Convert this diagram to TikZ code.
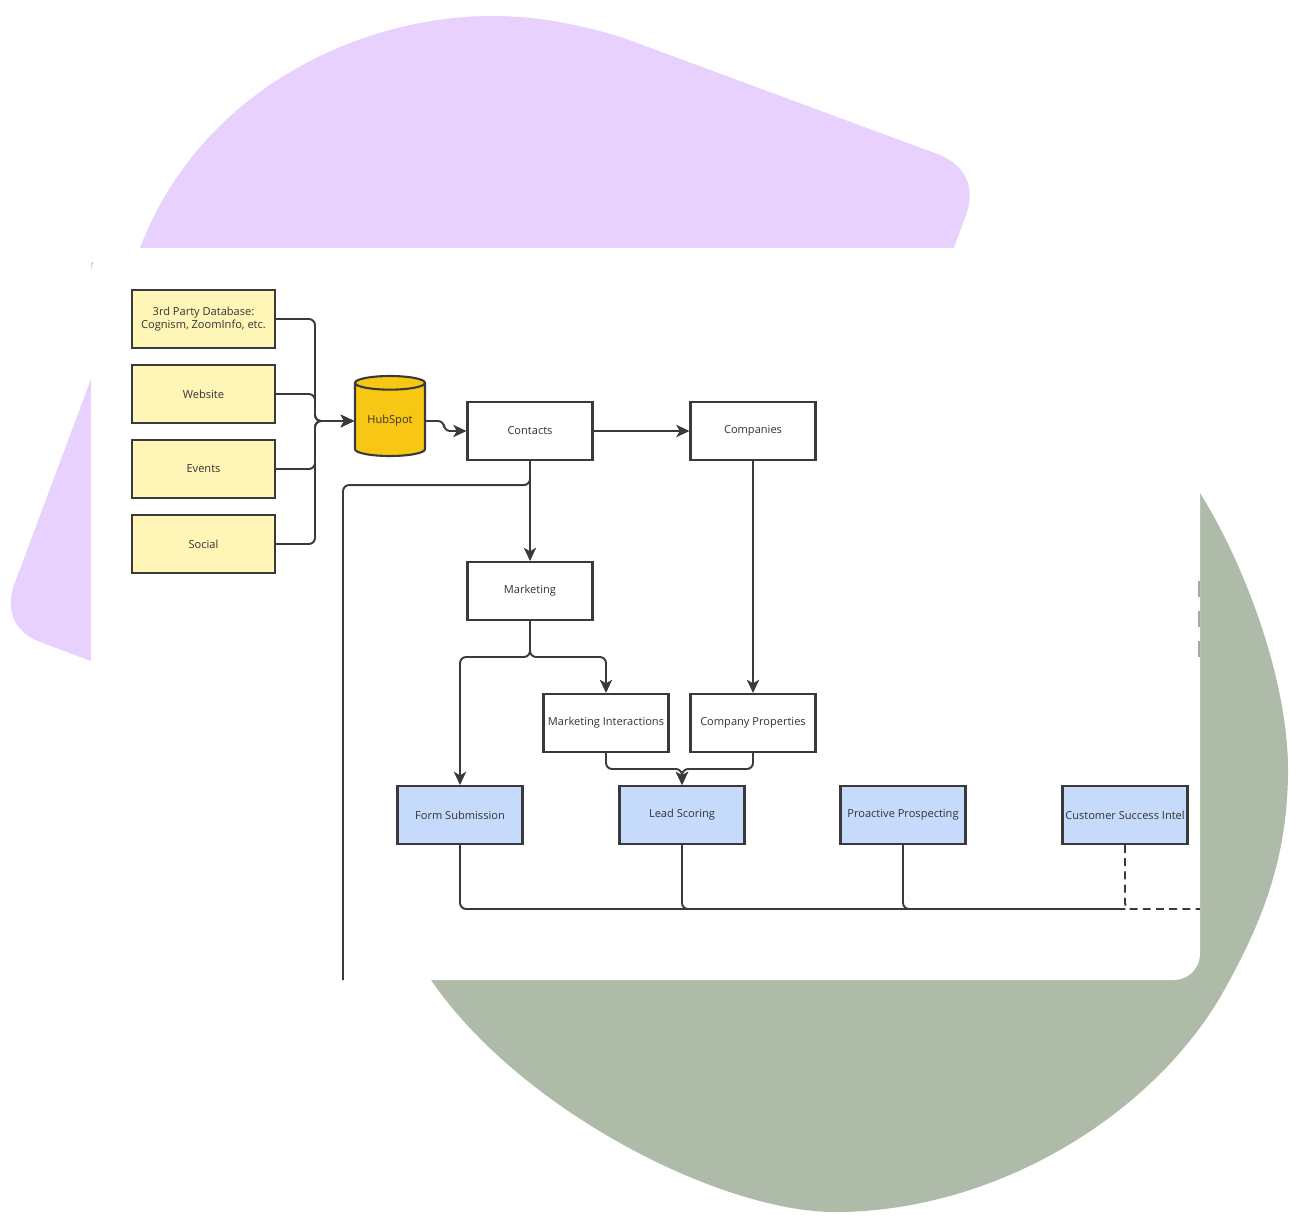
\documentclass[tikz,border=0pt]{standalone}
\usepackage{fontspec}
\setmainfont{Open Sans}
\usetikzlibrary{arrows.meta, shapes.geometric}
\definecolor{purplebg}{HTML}{E8D1FD}
\definecolor{sagebg}{HTML}{AFBBA9}
\definecolor{noteyellow}{HTML}{FFF5B7}
\definecolor{hubgold}{HTML}{F8C714}
\definecolor{outcomeblue}{HTML}{C6DBFB}
\definecolor{linegray}{HTML}{3A3A3A}
\definecolor{textgray}{HTML}{333333}
\tikzset{
  flowbox/.style={draw=linegray, line width=1.2pt, fill=white, minimum width=2.5cm, minimum height=1.16cm,
    inner sep=1pt, align=center, text=textgray, font=\fontsize{6.3}{7.8}\selectfont},
  sourcebox/.style={flowbox, fill=noteyellow, minimum width=2.86cm},
  outcomebox/.style={flowbox, fill=outcomeblue},
  conn/.style={draw=linegray, line width=1.1pt, rounded corners=3.5pt},
}

\begin{document}
\begin{tikzpicture}[x=0.02cm, y=-0.02cm, >={Stealth[length=7.5pt, width=7pt, inset=2pt]}]
  \fill[white] (0,0) rectangle (1291,1228);
  % backdrop shapes
  \fill[purplebg] (91,661) -- (40,642) .. controls (15,632) and (5,612) .. (14,585) -- (140,248)
    .. controls (200,90) and (360,16) .. (492,16) .. controls (540,16) and (580,25) .. (621,37)
    -- (940,155) .. controls (968,167) and (975,190) .. (966,215) -- (953,250) -- (953,262) -- (91,262) -- cycle;
  \fill[sagebg] (1200,493) .. controls (1245,565) and (1288,680) .. (1288,770)
    .. controls (1288,860) and (1260,925) .. (1227,985) .. controls (1160,1110) and (1000,1212) .. (835,1212)
    .. controls (720,1212) and (520,1110) .. (431,980) -- (418,940) -- (418,600) -- (1150,420) -- cycle;
  \fill[white, rounded corners=15] (91,248) rectangle (1200,980);

  \node[sourcebox] (thirdparty) at (203.5,319) {3rd Party Database:\\Cognism, ZoomInfo, etc.};
  \node[sourcebox] (website) at (203.5,394) {Website};
  \node[sourcebox] (events) at (203.5,469) {Events};
  \node[sourcebox] (social) at (203.5,544) {Social};
  \node[cylinder, shape border rotate=90, aspect=0.28, draw=linegray, line width=1.2pt, fill=hubgold,
    minimum width=1.4cm, minimum height=1.6cm, inner sep=1pt, text=textgray,
    font=\fontsize{6.3}{7.8}\selectfont] (hubspot) at (390,421) {HubSpot};
  \node[flowbox] (contacts) at (530,431) {Contacts};
  \node[flowbox] (companies) at (753,431) {Companies};
  \node[flowbox] (marketing) at (530,591) {Marketing};
  \node[flowbox] (mktinter) at (606,723) {Marketing Interactions};
  \node[flowbox] (compprops) at (753,723) {Company Properties};
  \node[outcomebox] (formsub) at (460,815) {Form Submission};
  \node[outcomebox] (leadscore) at (682,815) {Lead Scoring};
  \node[outcomebox] (prospect) at (903,815) {Proactive Prospecting};
  \node[outcomebox] (csintel) at (1125,815) {Customer Success Intel};

  \coordinate (merge) at (hubspot.west -| 315,0);
  \coordinate (split) at (530,657);
  \coordinate (join) at (682,769);
  \coordinate (offcard) at (343,980);
  \coordinate (busend) at (1125,909);
  \coordinate (cardedge) at (1200,909);
  \coordinate (edgetop) at (1199,581);
  \coordinate (edgebot) at (1199,662);

  \draw[conn, ->] (thirdparty.east) -| (merge) -- (hubspot.west);
  \draw[conn, ->] (website.east) -| (merge) -- (hubspot.west);
  \draw[conn, ->] (events.east) -| (merge) -- (hubspot.west);
  \draw[conn, ->] (social.east) -| (merge) -- (hubspot.west);
  \draw[conn, ->] (hubspot.east) -- ++(18,0) |- (contacts.west);
  \draw[conn, ->] (contacts.east) -- (companies.west);
  \draw[conn, ->] (contacts.south) -- (marketing.north);
  \draw[conn] (contacts.south) -- ++(0,24) -| (offcard);
  \draw[conn, ->] (companies.south) -- (compprops.north);
  \draw[conn, ->] (marketing.south) -- (split) -| (formsub.north);
  \draw[conn, ->] (marketing.south) -- (split) -| (mktinter.north);
  \draw[conn, ->] (mktinter.south) |- (join) -- (leadscore.north);
  \draw[conn, ->] (compprops.south) |- (join) -- (leadscore.north);
  \draw[conn] (formsub.south) |- (busend);
  \draw[conn] (leadscore.south) |- (busend);
  \draw[conn] (prospect.south) |- (busend);
  \draw[conn, dash pattern=on 4.5pt off 3pt] (csintel.south) |- (cardedge);
  \draw[draw=gray!70, line width=0.85pt, dash pattern=on 9pt off 8pt] (edgetop) -- (edgebot);
\end{tikzpicture}
\end{document}
